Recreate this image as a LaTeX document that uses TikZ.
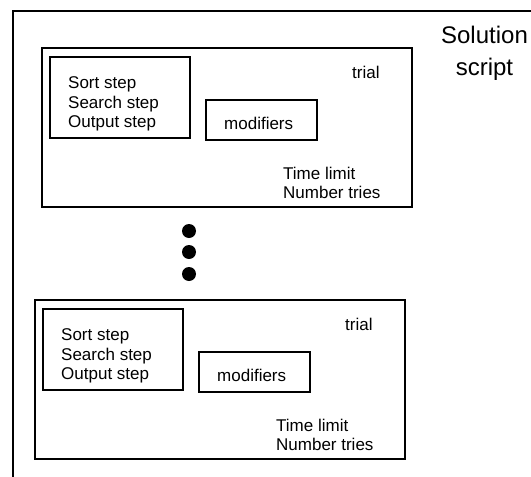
\documentclass[tikz,border=0pt]{standalone}
\usepackage{fontspec}
\setmainfont{Liberation Sans}
\tikzset{
  frameline/.style={line width=2.4pt},
  boxnode/.style={draw, line width=2.2pt, inner sep=0pt, anchor=north west},
  txt/.style={inner sep=0pt, anchor=west, align=left, font=\fontsize{17}{19.5}\selectfont},
  dotnode/.style={circle, fill=black, inner sep=0pt, minimum size=14pt},
  % one trial: its frame, the step list, the modifiers box and the limits
  trial block/.pic={
    \node[boxnode, minimum width=370pt, minimum height=159pt] (-outer) at (0,0) {};
    \node[boxnode, minimum width=140pt, minimum height=81pt] (-steps) at (8,9) {};
    \node[boxnode, minimum width=111pt, minimum height=40pt] (-mod) at (164,52) {};
    \node[txt] (-list) at (27,57) {Sort step\\Search step\\Output step};
    \node[txt] (-modtext) at (183,76) {modifiers};
    \node[txt] (-trial) at (311,25) {trial};
    \node[txt] (-limits) at (242,136) {Time limit\\Number tries};
  }
}
\begin{document}
\begin{tikzpicture}[x=1pt, y=-1pt]
  \useasboundingbox (0,0) rectangle (531,477);
  % the enclosing script frame runs past the right and bottom edges
  \coordinate (fr) at (531,11);
  \coordinate (fc) at (13,11);
  \coordinate (fb) at (13,477);
  \draw[frameline] (fr) -- (fc) -- (fb);
  \node[align=center, inner sep=0pt, anchor=north, font=\fontsize{24}{32}\selectfont]
    (title) at (484.5,25.5) {Solution\\script};
  \pic (first) at (41,47) {trial block};
  \node[dotnode] (d1) at (189,231) {};
  \node[dotnode] (d2) at (189,252) {};
  \node[dotnode] (d3) at (189,274) {};
  \pic (last) at (34,299) {trial block};
\end{tikzpicture}
\end{document}
